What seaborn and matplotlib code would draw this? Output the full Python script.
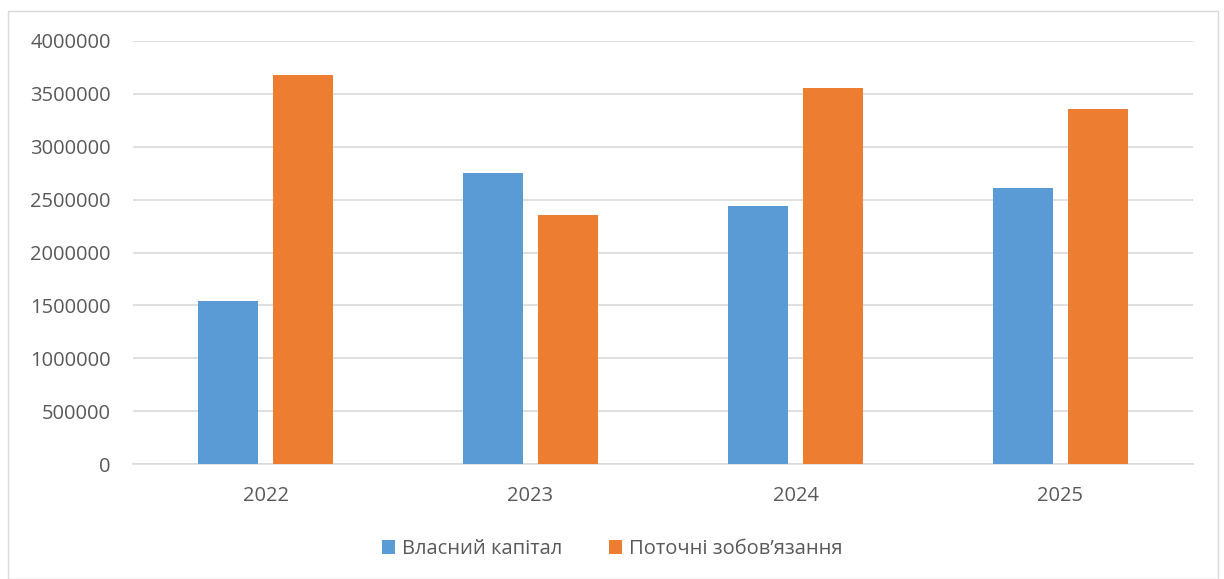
import numpy as np
import pandas as pd
import seaborn as sns
import matplotlib.pyplot as plt
from matplotlib.patches import Rectangle

years = ['2022', '2023', '2024', '2025']
equity = [1543000, 2753000, 2439000, 2611000]
liabilities = [3680000, 2351000, 3554000, 3355000]
series_names = ['Власний капітал', 'Поточні зобов’язання']

data = pd.DataFrame({
    'year': years * 2,
    'value': equity + liabilities,
    'series': [series_names[0]] * 4 + [series_names[1]] * 4,
})

sns.set_style('white')
plt.rcParams['font.family'] = ['Open Sans', 'DejaVu Sans']

fig = plt.figure(figsize=(12.24, 5.79), dpi=100)
ax = fig.add_axes([133 / 1224, 1 - 464 / 579, (1193 - 133) / 1224, (464 - 41) / 579])

palette = {series_names[0]: '#5B9BD5', series_names[1]: '#ED7D31'}
sns.barplot(data=data, x='year', y='value', hue='series', palette=palette,
            width=0.57, gap=0.2, saturation=1, linewidth=0, ax=ax,
            legend=True, zorder=3)

ax.set_ylim(0, 4000000)
ax.set_yticks(np.arange(0, 4000001, 500000))
ax.set_yticklabels([str(v) for v in range(0, 4000001, 500000)])
ax.yaxis.grid(True, color='#D9D9D9', linewidth=1.2, zorder=0)
ax.set_axisbelow(True)
ax.set_xlabel('')
ax.set_ylabel('')
for s in ['top', 'right', 'left']:
    ax.spines[s].set_visible(False)
ax.spines['bottom'].set_color('#D9D9D9')
ax.spines['bottom'].set_linewidth(1.2)
ax.tick_params(axis='both', length=0, labelsize=14.5, colors='#595959')
ax.tick_params(axis='x', pad=16)
ax.tick_params(axis='y', pad=16)

handles, labels = ax.get_legend_handles_labels()
ax.legend_.remove()
fig.legend(handles, labels, loc='center', bbox_to_anchor=(0.5, 1 - 549 / 579),
           ncol=2, frameon=False, fontsize=14.5, labelcolor='#595959',
           handlelength=0.65, handleheight=0.65, handletextpad=0.35, columnspacing=2.3)

fig.patches.append(Rectangle((8 / 1224, 0), 1210 / 1224, 1 - 11 / 579,
                             transform=fig.transFigure, fill=False,
                             edgecolor='#D9D9D9', linewidth=1))

fig.savefig('out.png', dpi=100)
